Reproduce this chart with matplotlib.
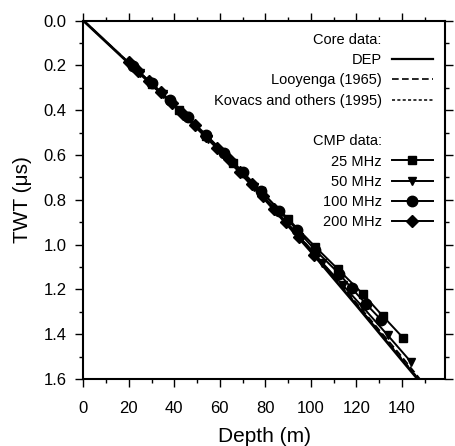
import matplotlib
matplotlib.use("Agg")
import matplotlib.pyplot as plt
from matplotlib.lines import Line2D
from matplotlib.ticker import MultipleLocator

plt.rcParams["font.family"] = ["Liberation Sans", "DejaVu Sans"]

# core data (depth in m, two-way travel time in us)
dep_depth = [0, 20, 40, 60, 80, 100, 120, 140, 147]
dep_twt = [0, 0.19, 0.38, 0.58, 0.80, 1.03, 1.27, 1.515, 1.60]
looy_depth = [0, 20, 40, 60, 80, 100, 120, 140, 148]
looy_twt = [0, 0.188, 0.376, 0.575, 0.795, 1.02, 1.26, 1.50, 1.60]
kov_depth = [0, 20, 40, 60, 80, 100, 120, 140, 147.5]
kov_twt = [0, 0.189, 0.378, 0.578, 0.797, 1.025, 1.265, 1.508, 1.60]

# CMP data
d25 = [30, 42, 54, 66, 78, 90, 102, 112, 122.8, 131.6, 140.6]
t25 = [0.285, 0.40, 0.515, 0.635, 0.76, 0.885, 1.01, 1.11, 1.219, 1.318, 1.416]
d50 = [25, 35, 45, 55, 65, 75, 85, 95, 105, 114, 123, 133.8, 144]
t50 = [0.235, 0.33, 0.428, 0.53, 0.635, 0.742, 0.852, 0.965, 1.08, 1.18, 1.28, 1.404, 1.523]
d100 = [22, 30, 38, 46, 54, 62, 70, 78, 86, 94, 102, 112.5, 118, 124.3, 130.9]
t100 = [0.205, 0.28, 0.355, 0.432, 0.51, 0.592, 0.675, 0.76, 0.848, 0.935, 1.025, 1.13,
        1.195, 1.265, 1.335]
d200 = [20, 24, 29, 34, 39, 44, 49, 54, 59, 64, 69, 74, 79, 84, 89, 95, 101.6]
t200 = [0.185, 0.224, 0.272, 0.32, 0.368, 0.417, 0.467, 0.517, 0.568, 0.62, 0.675, 0.73,
        0.785, 0.84, 0.9, 0.965, 1.045]

fig = plt.figure(figsize=(4.55, 4.46), dpi=100)
ax = fig.add_axes([0.183, 0.150, 0.795, 0.804])

ax.plot(dep_depth, dep_twt, "k-", lw=2.0)
ax.plot(looy_depth, looy_twt, "k", ls=(0, (4, 2)), lw=1.3)
ax.plot(kov_depth, kov_twt, "k", ls=(0, (2, 1.5)), lw=1.2)

ax.plot(d25, t25, "k-", marker="s", ms=5.5, lw=1.4)
ax.plot(d50, t50, "k-", marker="v", ms=6, lw=1.4)
ax.plot(d100, t100, "k-", marker="o", ms=7.5, lw=1.4)
ax.plot(d200, t200, "k-", marker="D", ms=6, lw=1.4)

ax.set_xlim(0, 159)
ax.set_ylim(1.6, 0)
ax.set_xticks([0, 20, 40, 60, 80, 100, 120, 140])
ax.set_yticks([0.0, 0.2, 0.4, 0.6, 0.8, 1.0, 1.2, 1.4, 1.6])
ax.xaxis.set_minor_locator(MultipleLocator(10))
ax.yaxis.set_minor_locator(MultipleLocator(0.1))
ax.tick_params(which="both", direction="out", top=True, right=True, width=1.0)
ax.tick_params(which="major", length=6)
ax.tick_params(which="minor", length=3)
ax.tick_params(axis="x", labelsize=12, pad=10)
ax.tick_params(axis="y", labelsize=12, pad=6)
for s in ax.spines.values():
    s.set_linewidth(1.5)

ax.set_xlabel("Depth (m)", fontsize=15, labelpad=8)
ax.set_ylabel("TWT (\u03bcs)", fontsize=15, labelpad=8)

blank = Line2D([], [], color="none")
handles = [
    blank,
    Line2D([], [], color="k", lw=1.6),
    Line2D([], [], color="k", ls=(0, (4, 2)), lw=1.2),
    Line2D([], [], color="k", ls=(0, (2, 1.5)), lw=1.1),
    blank,
    blank,
    Line2D([], [], color="k", marker="s", ms=5.5, lw=1.4),
    Line2D([], [], color="k", marker="v", ms=6, lw=1.4),
    Line2D([], [], color="k", marker="o", ms=7.5, lw=1.4),
    Line2D([], [], color="k", marker="D", ms=6, lw=1.4),
]
labels = ["Core data:", "DEP", "Looyenga (1965)", "Kovacs and others (1995)", " ",
          "CMP data:", "25 MHz", "50 MHz", "100 MHz", "200 MHz"]
ax.legend(handles, labels, loc="upper right", frameon=False, markerfirst=False,
          fontsize=10.5, handlelength=2.8, handletextpad=0.7, labelspacing=0.43,
          borderaxespad=0, borderpad=0.85)

fig.savefig("out.png", dpi=100)
